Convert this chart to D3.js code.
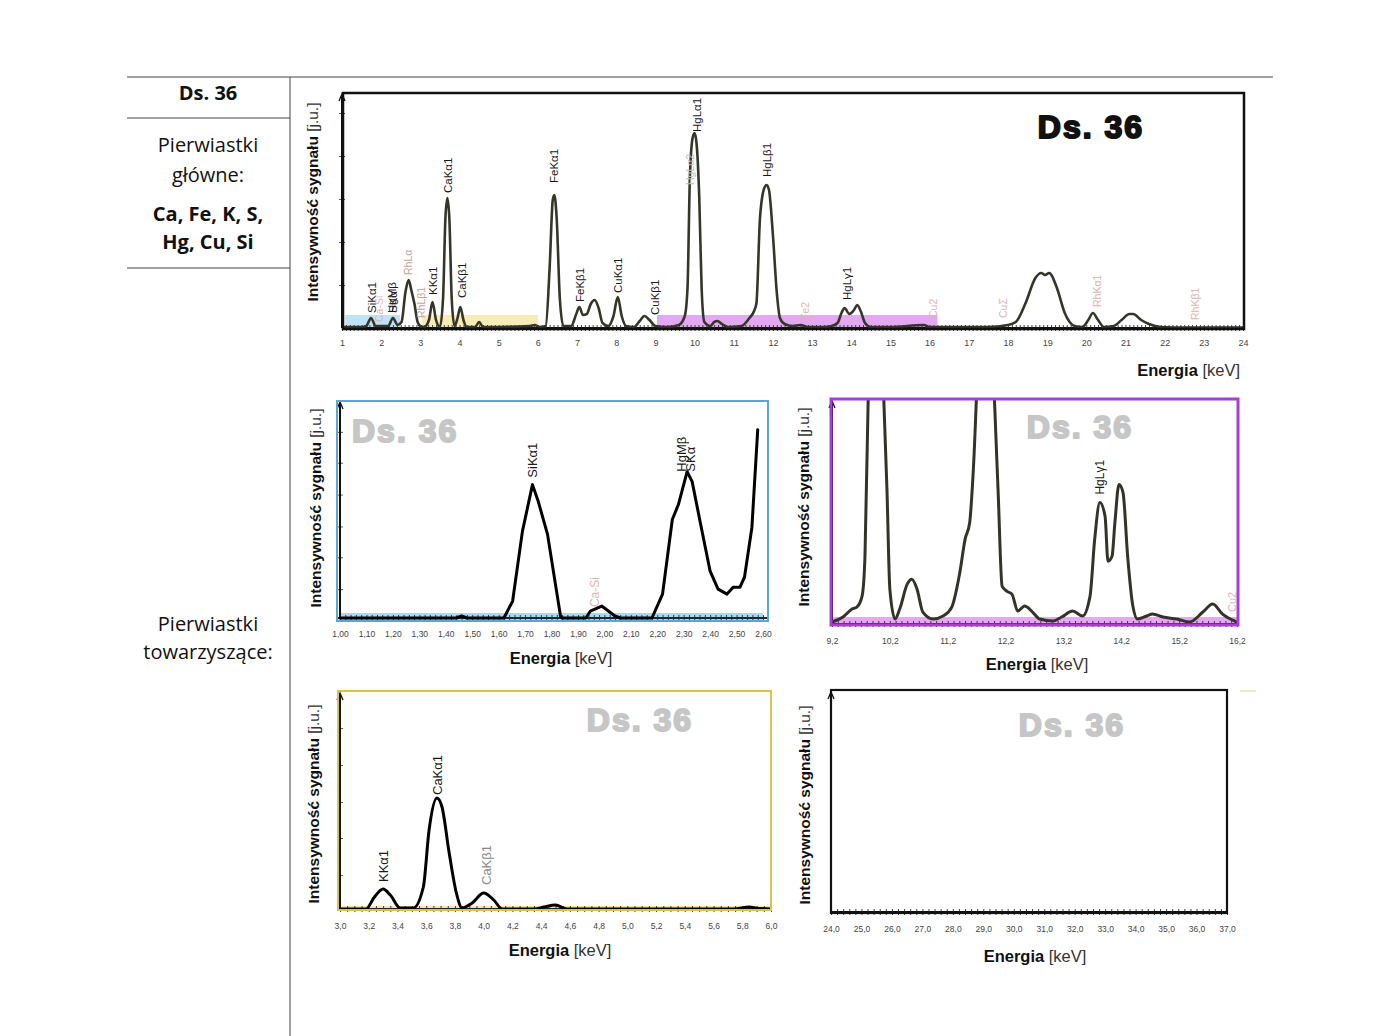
<!DOCTYPE html>
<html><head><meta charset="utf-8">
<script src="https://cdn.jsdelivr.net/npm/d3@7/dist/d3.min.js"></script>
<style>body{margin:0;background:#fff}svg{display:block}</style>
</head><body>
<svg id="fig" width="1400" height="1036"></svg>
<script>
// ================= DATA =================
const sampleName = "Ds. 36";
const mainHeader = ["Pierwiastki", "główne:"];
const mainElements = ["Ca, Fe, K, S,", "Hg, Cu, Si"];
const traceHeader = ["Pierwiastki", "towarzyszące:"];
const yTitle = ["Intensywność sygnału", "[j.u.]"];
const xTitle = ["Energia", "[keV]"];

// --- overview spectrum, 1–24 keV ---
const overviewEnergy = [1.0,1.5,1.62,1.74,1.86,2.0,2.18,2.3,2.42,2.52,2.62,2.7,2.78,2.85,2.93,3.0,3.1,3.22,3.31,3.4,3.5,3.58,3.64,3.69,3.74,3.8,3.87,3.95,4.02,4.1,4.18,4.4,4.5,4.6,5.0,5.8,5.92,6.05,6.2,6.3,6.38,6.42,6.48,6.56,6.65,6.85,6.98,7.06,7.15,7.25,7.35,7.45,7.55,7.65,7.8,7.93,8.04,8.14,8.25,8.45,8.6,8.72,8.85,9.0,9.3,9.6,9.75,9.82,9.88,9.95,10.0,10.05,10.12,10.18,10.25,10.4,10.5,10.58,10.7,10.85,11.2,11.4,11.52,11.58,11.67,11.78,11.84,11.9,12.0,12.1,12.18,12.3,12.5,12.7,12.9,13.3,13.5,13.65,13.75,13.83,13.95,14.07,14.15,14.25,14.35,14.5,15.0,15.85,16.0,17.5,18.0,18.2,18.45,18.7,18.85,18.95,19.05,19.25,19.45,19.7,19.9,20.05,20.17,20.3,20.45,20.7,20.9,21.1,21.2,21.4,21.6,21.9,22.2,24.0];
const overviewIntensity = [1,1,2,10,2,2,2,10,3,6,36,48,36,24,6,2,1,8,26,8,1,30,110,130,110,30,2,10,21,8,1,1,6,1,1,2,3,1,2,60,128,133,110,30,2,2,14,21,13,14,24,28,20,5,2,12,31,12,2,1,7,12,8,2,1,3,12,40,150,190,195,185,130,40,6,2,6,7,4,1,2,10,17,25,110,140,143,138,93,35,10,4,2,3,1,1,2,5,15,20,14,18,23,16,5,1,1,3,1,1,3,6,25,50,55,53,55,40,15,2,1,8,15,8,1,2,8,14,14,8,4,1,0.5,0.5];
const overviewTicks = [1,2,3,4,5,6,7,8,9,10,11,12,13,14,15,16,17,18,19,20,21,22,23,24];
const overviewBandFrom = [1.08, 3.04, 9.04];
const overviewBandTo = [2.48, 6.0, 16.2];
const overviewLabelText = ["SiKα1","Ca-Si","HgMβ","SKα","RhLα","RhLβ1","KKα1","CaKα1","CaKβ1","FeKα1","FeKβ1","CuKα1","CuKβ1","HgLα2","HgLα1","HgLβ1","Fe2","HgLγ1","Cu2","CuΣ","RhKα1","RhKβ1"];
const overviewLabelEnergy = [1.76,1.95,2.27,2.31,2.69,3.03,3.32,3.70,4.06,6.42,7.08,8.05,9.0,9.88,10.05,11.86,12.82,13.9,16.09,17.88,20.27,22.78];
const overviewLabelLevel = [15,6,15,15,53,10,33,135,30,145,26,35,13,143,196,151,8,28,10,10,21,8];
const overviewLabelKind = ["line","sum","line","line","rh","rh","line","line","line","line","line","line","line","faint","line","line","sum","line","sum","sum","sum","sum"];

// --- Si / S zoom, 1.00–2.60 keV ---
const siEnergy = [1.00,1.44,1.46,1.48,1.62,1.653,1.69,1.728,1.75,1.785,1.834,1.84,1.93,1.947,1.99,2.04,2.06,2.18,2.22,2.257,2.28,2.313,2.332,2.362,2.40,2.43,2.464,2.487,2.513,2.53,2.558,2.58];
const siIntensity = [0,0,2,0,0,17,87,134,117,84,2,0,0,7,12,2,0,0,24,99,114,147,137,97,47,29,24,31,31,41,91,189];
const siTicks = [1.0,1.1,1.2,1.3,1.4,1.5,1.6,1.7,1.8,1.9,2.0,2.1,2.2,2.3,2.4,2.5,2.6];
const siLabelText = ["SiKα1","HgMβ","SKα","Ca-Si"];
const siLabelEnergy = [1.728,2.292,2.324,1.962];
const siLabelLevel = [141,147,147,11];
const siLabelKind = ["line","line","line","sum"];

// --- Hg L zoom, 9.2–16.2 keV ---
const hgEnergy = [9.2,9.39,9.545,9.63,9.72,9.77,9.85,9.95,10.05,10.15,10.2,10.29,10.37,10.5,10.58,10.67,10.77,10.95,11.12,11.27,11.41,11.5,11.58,11.64,11.75,11.85,11.95,12.07,12.14,12.22,12.31,12.41,12.53,12.65,12.79,13.02,13.17,13.36,13.53,13.66,13.74,13.83,13.92,13.97,14.04,14.09,14.16,14.23,14.31,14.4,14.48,14.64,14.74,14.92,15.16,15.38,15.61,15.78,15.95,16.16,16.2];
const hgIntensity = [2,7,15,17,28,68,300,420,300,135,35,5,15,40,45,35,12,5,8,17,52,85,102,152,300,380,300,135,38,33,30,13,18,13,5,3,7,13,8,28,85,122,108,63,68,102,140,132,68,18,5,8,10,7,5,2,12,20,10,3,2];
const hgTicks = [9.2,10.2,11.2,12.2,13.2,14.2,15.2,16.2];
const hgLabelText = ["HgLγ1","Cu2"];
const hgLabelEnergy = [13.83,16.12];
const hgLabelLevel = [130,12];
const hgLabelKind = ["line","sum"];

// --- K / Ca zoom, 3.0–6.0 keV ---
const caEnergy = [3.0,3.18,3.24,3.30,3.35,3.42,3.51,3.58,3.62,3.675,3.71,3.76,3.81,3.85,3.92,4.0,4.07,4.13,4.35,4.42,4.5,4.58,5.74,5.85,5.89,6.0];
const caIntensity = [0,0,12,20,14,1,1,22,79,111,102,56,16,1,6,16,9,0,0,2,4,0,0,2,1,0];
const caTicks = [3.0,3.2,3.4,3.6,3.8,4.0,4.2,4.4,4.6,4.8,5.0,5.2,5.4,5.6,5.8,6.0];
const caLabelText = ["KKα1","CaKα1","CaKβ1"];
const caLabelEnergy = [3.3,3.68,4.02];
const caLabelLevel = [27,114,24];
const caLabelKind = ["line","line","grey"];

// --- high energy zoom, 24–37 keV (no peaks) ---
const highEnergy = [];
const highIntensity = [];
const highTicks = [24,25,26,27,28,29,30,31,32,33,34,35,36,37];

// ================= DRAWING =================
const svg = d3.select("#fig");
const SANS = '"Liberation Sans", Arial, sans-serif';
const TABLE = '"Open Sans", "Noto Sans", sans-serif';
const kindColor = {line:"#1a1a1a", sum:"#dcb4b4", rh:"#c9a298", faint:"#bdbdbd", grey:"#8a8a8a"};

// ---- left table ----
const tbl = svg.append("g").attr("font-family", TABLE).attr("fill", "#111").attr("text-anchor", "middle");
tbl.append("line").attr("x1",127).attr("x2",1273).attr("y1",77).attr("y2",77).attr("stroke","#444").attr("stroke-width",1);
tbl.append("line").attr("x1",290).attr("x2",290).attr("y1",77).attr("y2",1036).attr("stroke","#444").attr("stroke-width",1);
tbl.append("line").attr("x1",127).attr("x2",290).attr("y1",118).attr("y2",118).attr("stroke","#444").attr("stroke-width",1);
tbl.append("line").attr("x1",127).attr("x2",290).attr("y1",268).attr("y2",268).attr("stroke","#444").attr("stroke-width",1);
tbl.append("text").attr("x",208).attr("y",100).attr("font-size",20).attr("font-weight","bold").text(sampleName);
tbl.selectAll(".mh").data(mainHeader).join("text").attr("x",208).attr("y",(d,i)=>152+i*30).attr("font-size",20).text(d=>d);
tbl.selectAll(".me").data(mainElements).join("text").attr("x",208).attr("y",(d,i)=>221+i*28).attr("font-size",20).attr("font-weight","bold").text(d=>d);
tbl.selectAll(".th").data(traceHeader).join("text").attr("x",208).attr("y",(d,i)=>631+i*28).attr("font-size",20).text(d=>d);

// ---- generic panel ----
function commaFmt(digits){ return d => d3.format("."+digits+"f")(d).replace(".", ","); }

function drawPanel(c){
  const x = d3.scaleLinear().domain(c.xDomain).range([c.left, c.right]);
  const y = d3.scaleLinear().domain(c.yDomain).range([c.base, c.top]);
  const g = svg.append("g");
  const clipId = "clip-" + c.id;
  svg.append("clipPath").attr("id", clipId).append("rect")
    .attr("x", c.frame[0]).attr("y", c.frame[1]+1).attr("width", c.frame[2]-c.frame[0]).attr("height", c.frame[3]-c.frame[1]);

  // shaded bands
  c.bandFrom.forEach((b,i)=>{
    g.append("rect").attr("x", x(b)).attr("width", x(c.bandTo[i]) - x(b))
      .attr("y", y(c.bandH)).attr("height", y(0) - y(c.bandH) + c.bandBelow)
      .attr("fill", c.bandColor[i % c.bandColor.length]);
  });

  // baseline
  g.append("line").attr("x1", c.frame[0]).attr("x2", c.frame[2]).attr("y1", c.base).attr("y2", c.base)
    .attr("stroke", c.baseColor).attr("stroke-width", 2);

  // minor ticks across the baseline
  g.append("g").attr("transform", `translate(0,${c.base - 3})`)
    .call(d3.axisBottom(x).tickValues(x.ticks(c.minorCount)).tickSize(6).tickFormat(""))
    .call(s => s.select(".domain").remove())
    .call(s => s.selectAll("line").attr("stroke", "#2a2a2a").attr("stroke-width", 0.9));

  // tick labels
  g.append("g").attr("transform", `translate(0,${c.base})`)
    .call(d3.axisBottom(x).tickValues(c.ticks).tickSize(0).tickPadding(c.tickPad).tickFormat(c.fmt))
    .call(s => s.select(".domain").remove())
    .call(s => s.selectAll("text").attr("font-family", SANS).attr("font-size", c.tickFont).attr("fill", "#444"));

  // y axis
  const ya = g.append("g").attr("transform", `translate(${c.left},0)`)
    .call(d3.axisLeft(y).tickValues(c.yTicks).tickSize(6).tickFormat(""));
  ya.select(".domain").remove();
  ya.selectAll("line").attr("stroke", "#555").attr("transform", "translate(3,0)");
  g.append("line").attr("x1", c.left).attr("x2", c.left).attr("y1", c.base).attr("y2", c.top + 2)
    .attr("stroke", "#111").attr("stroke-width", 2);
  g.append("path").attr("d", `M${c.left-3},${c.top+8}L${c.left},${c.top+1}L${c.left+3},${c.top+8}`)
    .attr("fill", "none").attr("stroke", "#111").attr("stroke-width", 1.3);

  // spectrum
  if (c.energy.length){
    const line = d3.line().x((d,i)=>x(c.energy[i])).y(d=>y(d)).curve(c.curve);
    g.append("path").datum(c.intensity).attr("d", line).attr("fill", "none")
      .attr("stroke", c.lineColor).attr("stroke-width", c.lineWidth)
      .attr("stroke-linejoin", "round").attr("stroke-linecap", "round")
      .attr("clip-path", `url(#${clipId})`);
  }

  // peak labels (rotated)
  c.labelText.forEach((t,i)=>{
    g.append("text")
      .attr("transform", `translate(${x(c.labelEnergy[i])},${y(c.labelLevel[i])}) rotate(-90)`)
      .attr("dy", "0.35em").attr("font-family", SANS)
      .attr("font-size", c.labelKind[i] === "line" || c.labelKind[i] === "grey" ? c.labelFont : c.labelFont - 1)
      .attr("fill", kindColor[c.labelKind[i]]).text(t);
  });

  // frame
  g.append("rect").attr("x", c.frame[0]).attr("y", c.frame[1])
    .attr("width", c.frame[2]-c.frame[0]).attr("height", c.frame[3]-c.frame[1])
    .attr("fill", "none").attr("stroke", c.frameColor).attr("stroke-width", c.frameWidth);

  // sample stamp
  g.append("text").attr("x", c.stamp[0]).attr("y", c.stamp[1]).attr("text-anchor", c.stamp[2])
    .attr("font-family", SANS).attr("font-weight", "bold").attr("font-size", 32)
    .attr("letter-spacing", 2).attr("fill", c.stampColor).attr("stroke", c.stampColor)
    .attr("stroke-width", 2).attr("stroke-linejoin", "round").attr("paint-order", "stroke").text(sampleName);

  // y title
  const yt = g.append("text").attr("transform", `translate(${c.yTitle[0]},${c.yTitle[1]}) rotate(-90)`)
    .attr("text-anchor", "middle").attr("font-family", SANS).attr("font-size", 15.5).attr("fill", "#111");
  yt.append("tspan").attr("font-weight", "bold").text(yTitle[0] + " ");
  yt.append("tspan").attr("fill", "#333").text(yTitle[1]);

  // x title
  const xt = g.append("text").attr("x", c.xTitle[0]).attr("y", c.xTitle[1]).attr("text-anchor", c.xTitle[2])
    .attr("font-family", SANS).attr("font-size", 16.5).attr("fill", "#111");
  xt.append("tspan").attr("font-weight", "bold").text(xTitle[0] + " ");
  xt.append("tspan").attr("fill", "#333").text(xTitle[1]);
}

// overview
drawPanel({
  id:"overview", xDomain:[1,24], yDomain:[0,235], left:342, right:1243, base:328, top:93,
  frame:[343,93,1244,329], frameColor:"#111", frameWidth:2.5,
  energy:overviewEnergy, intensity:overviewIntensity, curve:d3.curveMonotoneX,
  lineColor:"#35352a", lineWidth:2.6,
  bandFrom:overviewBandFrom, bandTo:overviewBandTo, bandH:13, bandBelow:0,
  bandColor:["#bfe3f6","#f7ebb6","#e2a9f2"],
  minorCount:230, baseColor:"#111", ticks:overviewTicks, fmt:d3.format("d"), tickPad:12, tickFont:9,
  yTicks:[43,86,129,172,215],
  labelText:overviewLabelText, labelEnergy:overviewLabelEnergy, labelLevel:overviewLabelLevel, labelKind:overviewLabelKind, labelFont:11.5,
  stamp:[1091,138,"middle"], stampColor:"#111",
  yTitle:[318,202], xTitle:[1240,376,"end"]
});

// Si / S
drawPanel({
  id:"si", xDomain:[1.0,2.6], yDomain:[0,218], left:340, right:763, base:618, top:401,
  frame:[337,401,768,621], frameColor:"#5aa6d4", frameWidth:2,
  energy:siEnergy, intensity:siIntensity, curve:d3.curveLinear,
  lineColor:"#000", lineWidth:3,
  bandFrom:[1.0], bandTo:[2.6], bandH:5, bandBelow:3, bandColor:["#a9d8f0"],
  minorCount:80, baseColor:"#223", ticks:siTicks, fmt:commaFmt(2), tickPad:13, tickFont:8.5,
  yTicks:[29,61,92,124,156,187],
  labelText:siLabelText, labelEnergy:siLabelEnergy, labelLevel:siLabelLevel, labelKind:siLabelKind, labelFont:13,
  stamp:[352,442,"start"], stampColor:"#c6c6c6",
  yTitle:[321,508], xTitle:[561,664,"middle"]
});

// Hg L
drawPanel({
  id:"hg", xDomain:[9.2,16.2], yDomain:[0,225], left:832, right:1237, base:624, top:400,
  frame:[831,399,1238,625], frameColor:"#a83ed2", frameWidth:3,
  energy:hgEnergy, intensity:hgIntensity, curve:d3.curveMonotoneX,
  lineColor:"#34332a", lineWidth:3,
  bandFrom:[9.2], bandTo:[16.2], bandH:7, bandBelow:1, bandColor:["#e6a6f3"],
  minorCount:70, baseColor:"#3a1f40", ticks:hgTicks, fmt:commaFmt(1), tickPad:14, tickFont:8.5,
  yTicks:[],
  labelText:hgLabelText, labelEnergy:hgLabelEnergy, labelLevel:hgLabelLevel, labelKind:hgLabelKind, labelFont:12,
  stamp:[1080,438,"middle"], stampColor:"#c6c6c6",
  yTitle:[809,507], xTitle:[1037,670,"middle"]
});

// K / Ca
drawPanel({
  id:"ca", xDomain:[3.0,6.0], yDomain:[0,217], left:340, right:771, base:909, top:692,
  frame:[338,691,771,910], frameColor:"#dcc34c", frameWidth:2,
  energy:caEnergy, intensity:caIntensity, curve:d3.curveMonotoneX,
  lineColor:"#000", lineWidth:3,
  bandFrom:[3.0], bandTo:[6.0], bandH:3, bandBelow:1, bandColor:["#f4e7a8"],
  minorCount:60, baseColor:"#222", ticks:caTicks, fmt:commaFmt(1), tickPad:14, tickFont:8.5,
  yTicks:[34,71,107,144,181],
  labelText:caLabelText, labelEnergy:caLabelEnergy, labelLevel:caLabelLevel, labelKind:caLabelKind, labelFont:13,
  stamp:[640,731,"middle"], stampColor:"#c6c6c6",
  yTitle:[319,804], xTitle:[560,956,"middle"]
});

// 24–37 keV
drawPanel({
  id:"high", xDomain:[24,37], yDomain:[0,220], left:831, right:1227, base:912, top:691,
  frame:[831,690,1227,913], frameColor:"#111", frameWidth:2.2,
  energy:highEnergy, intensity:highIntensity, curve:d3.curveMonotoneX,
  lineColor:"#000", lineWidth:3,
  bandFrom:[], bandTo:[], bandH:0, bandBelow:0, bandColor:["#fff"],
  minorCount:65, baseColor:"#111", ticks:highTicks, fmt:commaFmt(1), tickPad:14, tickFont:8.5,
  yTicks:[],
  labelText:[], labelEnergy:[], labelLevel:[], labelKind:[], labelFont:12,
  stamp:[1072,736,"middle"], stampColor:"#c6c6c6",
  yTitle:[810,805], xTitle:[1035,962,"middle"]
});
svg.append("line").attr("x1",1240).attr("x2",1256).attr("y1",691).attr("y2",691).attr("stroke","#efe6c4").attr("stroke-width",2);
</script>
</body></html>
